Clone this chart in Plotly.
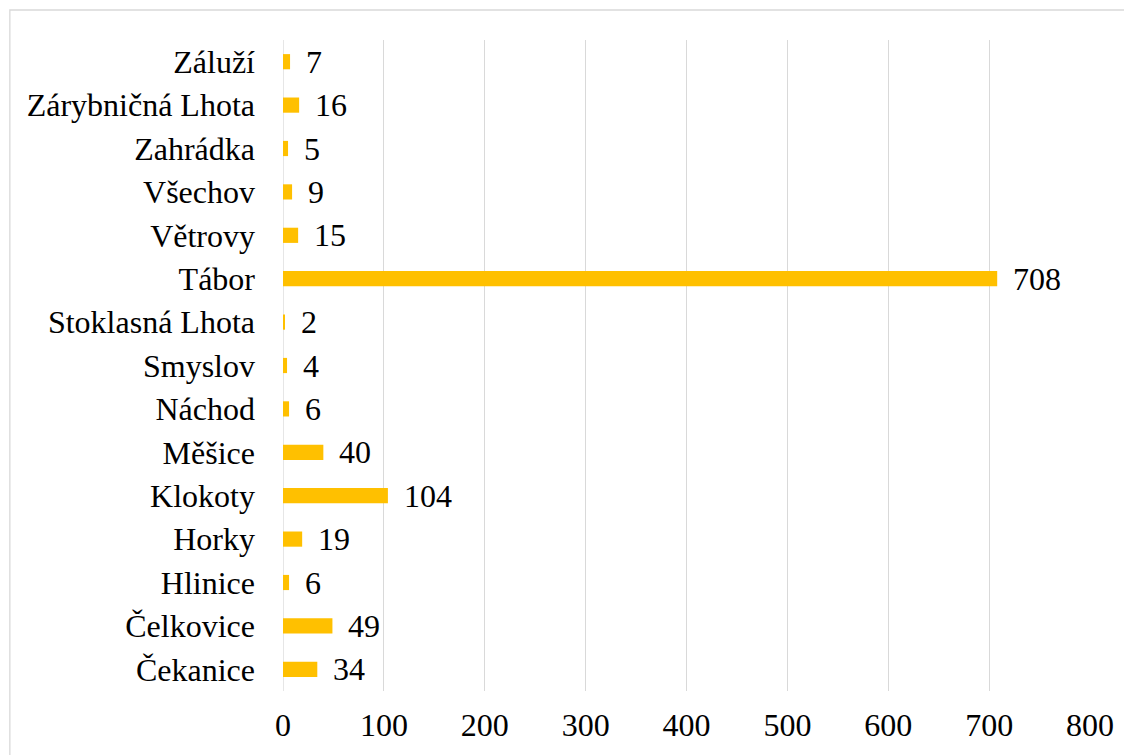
import plotly.graph_objects as go

categories = ["Čekanice", "Čelkovice", "Hlinice", "Horky", "Klokoty", "Měšice", "Náchod",
              "Smyslov", "Stoklasná Lhota", "Tábor", "Větrovy", "Všechov", "Zahrádka",
              "Zárybničná Lhota", "Záluží"]
values = [34, 49, 6, 19, 104, 40, 6, 4, 2, 708, 15, 9, 5, 16, 7]
x_ticks = [0, 100, 200, 300, 400, 500, 600, 700, 800]

FONT = "Liberation Serif, Times New Roman, serif"
FS = 32
OFF = 8  # page offset of the rendered figure

fig = go.Figure(go.Bar(
    x=values, y=categories, orientation="h",
    marker=dict(color="#FFC000", line=dict(width=0)),
    hoverinfo="x+y",
))

for c, v in zip(categories, values):
    fig.add_annotation(x=v, y=c, text=str(v), showarrow=False, xanchor="left",
                       xshift=14, font=dict(family=FONT, size=FS, color="black"))

L, R, T, B = 282.5 - OFF, 1090.5 - OFF, 40 - OFF, 691 - OFF
W, H = 1132, 755
fig.update_layout(
    width=W, height=H,
    margin=dict(l=L, r=W - R, t=T, b=H - B),
    paper_bgcolor="white", plot_bgcolor="white",
    bargap=0.65, showlegend=False,
    font=dict(family=FONT, size=FS, color="black"),
    xaxis=dict(range=[0, 800], tickvals=x_ticks, showgrid=True, gridcolor="#d9d9d9",
               gridwidth=1.3, zeroline=False, showline=False, ticks="",
               ticklabelstandoff=12, tickfont=dict(family=FONT, size=FS, color="black")),
    yaxis=dict(showgrid=False, zeroline=False, showline=False, ticks="",
               ticklabelstandoff=27, tickfont=dict(family=FONT, size=FS, color="black"),
               categoryorder="array", categoryarray=categories),
    shapes=[
        dict(type="rect", xref="paper", yref="paper",
             x0=(9 - OFF - L) / (R - L), x1=(1150 - L) / (R - L),
             y0=(B - 780) / (B - T), y1=(B - (10 - OFF)) / (B - T),
             line=dict(color="#d9d9d9", width=1.3), fillcolor="rgba(0,0,0,0)", layer="below"),
        dict(type="line", xref="x", yref="paper", x0=0, x1=0, y0=0, y1=1,
             line=dict(color="#d9d9d9", width=1.3), layer="below"),
    ],
)

fig.write_html("out.html")
